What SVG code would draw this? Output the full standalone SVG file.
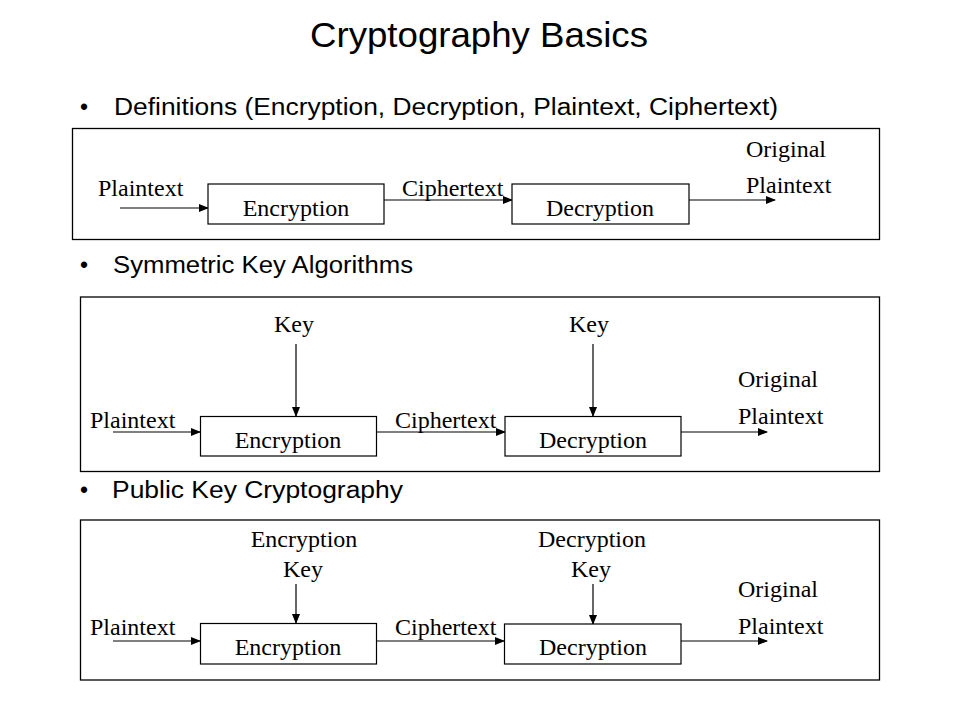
<svg xmlns="http://www.w3.org/2000/svg" width="960" height="720" viewBox="0 0 960 720">
  <style>
    .title { font-family: "Liberation Sans", Arial, sans-serif; font-size: 35px; fill: #000; }
    .bullet { font-family: "Liberation Sans", Arial, sans-serif; font-size: 23px; fill: #000; }
    .lbl { font-family: "Liberation Serif", "Times New Roman", serif; font-size: 24px; fill: #000; }
    .mid { text-anchor: middle; }
    .panel { fill: none; stroke: #000; stroke-width: 1.3; }
    .box { fill: #fff; stroke: #000; stroke-width: 1.2; }
    .wire { fill: none; stroke: #000; stroke-width: 1.2; marker-end: url(#arrow); }
  </style>
  <defs>
    <marker id="arrow" markerUnits="userSpaceOnUse" markerWidth="10" markerHeight="8" refX="9" refY="4" orient="auto">
      <path d="M0,0 L10,4 L0,8 z" fill="#000"/>
    </marker>
  </defs>
  <rect width="960" height="720" fill="#fff"/>

  <text class="title" x="310" y="47" textLength="338" lengthAdjust="spacingAndGlyphs">Cryptography Basics</text>

  <!-- bullet headings -->
  <text class="bullet" x="80" y="115">•</text>
  <text class="bullet" x="114" y="115" textLength="664" lengthAdjust="spacingAndGlyphs">Definitions (Encryption, Decryption, Plaintext, Ciphertext)</text>
  <text class="bullet" x="80" y="273">•</text>
  <text class="bullet" x="113" y="273" textLength="300" lengthAdjust="spacingAndGlyphs">Symmetric Key Algorithms</text>
  <text class="bullet" x="80" y="498">•</text>
  <text class="bullet" x="112" y="498" textLength="291" lengthAdjust="spacingAndGlyphs">Public Key Cryptography</text>

  <!-- panel frames -->
  <rect class="panel" x="72.5" y="128.5" width="807" height="111"/>
  <rect class="panel" x="80.5" y="297" width="799" height="174.5"/>
  <rect class="panel" x="80.5" y="520" width="799" height="160"/>

  <!-- connectors -->
  <g id="connectors">
    <line class="wire" x1="120" y1="208" x2="208" y2="208"/>
    <line class="wire" x1="384" y1="200" x2="512" y2="200"/>
    <line class="wire" x1="689" y1="200" x2="775" y2="200"/>

    <line class="wire" x1="113" y1="432" x2="200" y2="432"/>
    <line class="wire" x1="376" y1="432" x2="505" y2="432"/>
    <line class="wire" x1="681" y1="432" x2="767" y2="432"/>
    <line class="wire" x1="296" y1="344" x2="296" y2="416"/>
    <line class="wire" x1="593" y1="344" x2="593" y2="416"/>

    <line class="wire" x1="113" y1="641" x2="200" y2="641"/>
    <line class="wire" x1="376" y1="641" x2="504" y2="641"/>
    <line class="wire" x1="681" y1="641" x2="767" y2="641"/>
    <line class="wire" x1="296" y1="584" x2="296" y2="623"/>
    <line class="wire" x1="593" y1="584" x2="593" y2="624"/>
  </g>

  <!-- definitions panel -->
  <g id="def-enc">
    <rect class="box" x="208" y="184" width="176" height="40"/>
    <text class="lbl mid" x="296" y="216">Encryption</text>
  </g>
  <g id="def-dec">
    <rect class="box" x="512" y="184" width="177" height="40"/>
    <text class="lbl mid" x="600" y="216">Decryption</text>
  </g>
  <g id="def-labels">
    <text class="lbl" x="98" y="196">Plaintext</text>
    <text class="lbl" x="402" y="196">Ciphertext</text>
    <text class="lbl" x="746" y="157">Original</text>
    <text class="lbl" x="746" y="193">Plaintext</text>
  </g>

  <!-- symmetric key panel -->
  <g id="sym-enc">
    <rect class="box" x="200.5" y="416.5" width="176" height="39.5"/>
    <text class="lbl mid" x="288" y="448">Encryption</text>
  </g>
  <g id="sym-dec">
    <rect class="box" x="505" y="416.5" width="176" height="39.5"/>
    <text class="lbl mid" x="593" y="448">Decryption</text>
  </g>
  <g id="sym-labels">
    <text class="lbl mid" x="294" y="332">Key</text>
    <text class="lbl mid" x="589" y="332">Key</text>
    <text class="lbl" x="90" y="428">Plaintext</text>
    <text class="lbl" x="395" y="428">Ciphertext</text>
    <text class="lbl" x="738" y="387">Original</text>
    <text class="lbl" x="738" y="424">Plaintext</text>
  </g>

  <!-- public key panel -->
  <g id="pub-enc">
    <rect class="box" x="200.5" y="623.5" width="176" height="40.5"/>
    <text class="lbl mid" x="288" y="655">Encryption</text>
  </g>
  <g id="pub-dec">
    <rect class="box" x="504.5" y="624" width="176.5" height="40"/>
    <text class="lbl mid" x="593" y="655">Decryption</text>
  </g>
  <g id="pub-labels">
    <text class="lbl mid" x="304" y="547">Encryption</text>
    <text class="lbl mid" x="303" y="577">Key</text>
    <text class="lbl mid" x="592" y="547">Decryption</text>
    <text class="lbl mid" x="591" y="577">Key</text>
    <text class="lbl" x="90" y="635">Plaintext</text>
    <text class="lbl" x="395" y="635">Ciphertext</text>
    <text class="lbl" x="738" y="597">Original</text>
    <text class="lbl" x="738" y="634">Plaintext</text>
  </g>
</svg>
